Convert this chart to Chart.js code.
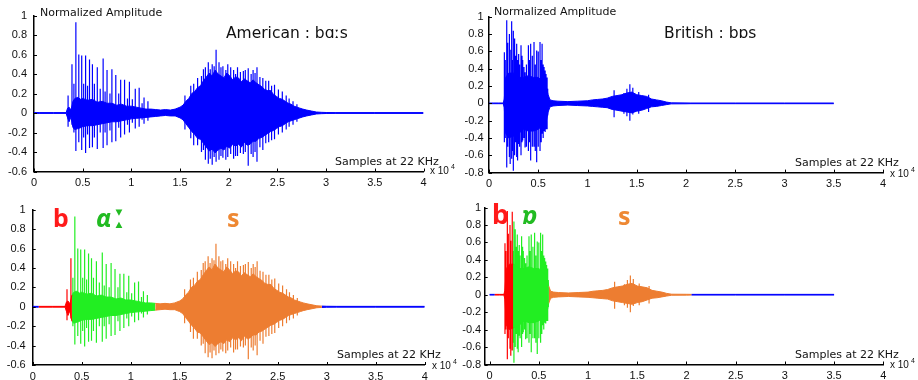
<!DOCTYPE html>
<html>
<head>
<meta charset="utf-8">
<title>American vs British: waveform</title>
<script src="https://cdn.jsdelivr.net/npm/chart.js@4.4.1/dist/chart.umd.min.js"></script>
<style>
  html, body { margin: 0; padding: 0; background: #fff; }
  #wrap { position: relative; width: 918px; height: 380px; overflow: hidden; }
  canvas { position: absolute; }
</style>
</head>
<body>
<div id="wrap">
  <canvas id="amTop" width="460" height="190" style="left:0;top:0"></canvas>
  <canvas id="brTop" width="458" height="190" style="left:460px;top:0"></canvas>
  <canvas id="amBottom" width="460" height="190" style="left:0;top:190px"></canvas>
  <canvas id="brBottom" width="458" height="190" style="left:460px;top:190px"></canvas>
</div>
<script>
// x is in units of 10^4 samples (22 kHz), y is normalized amplitude
const xTicks = [0, 0.5, 1, 1.5, 2, 2.5, 3, 3.5, 4];
const yTicksAm = [-0.6, -0.4, -0.2, 0, 0.2, 0.4, 0.6, 0.8, 1];
const yTicksBr = [-0.8, -0.6, -0.4, -0.2, 0, 0.2, 0.4, 0.6, 0.8, 1];

// American "bɑːs" - amplitude envelope
const amEnvX = [0, 0.06, 0.2, 0.33, 0.345, 0.36, 0.38, 0.40, 0.42, 0.45, 0.48, 0.50, 0.55, 0.60, 0.65, 0.70, 0.75, 0.80, 0.85, 0.90, 0.95, 1.00, 1.05, 1.10, 1.15, 1.20, 1.25, 1.30, 1.35, 1.40, 1.45, 1.50,
  1.53, 1.56, 1.59, 1.62, 1.65, 1.68, 1.71, 1.74, 1.77, 1.80, 1.83, 1.86, 1.89, 1.92, 1.95, 1.98, 2.01, 2.04, 2.07, 2.10, 2.13, 2.16, 2.19, 2.22, 2.25, 2.28, 2.31, 2.34, 2.37, 2.40, 2.43, 2.46, 2.49, 2.52, 2.55, 2.58, 2.61, 2.64, 2.67, 2.70, 2.73, 2.76, 2.80, 2.85, 2.90, 2.95, 3.00,
  3.10, 3.50, 4.00];
const amEnvHi = [0.004, 0.004, 0.004, 0.004, 0.05, 0.06, 0.03, 0.12, 0.15, 0.16, 0.14, 0.15, 0.13, 0.14, 0.11, 0.12, 0.10, 0.10, 0.08, 0.09, 0.07, 0.07, 0.06, 0.05, 0.04, 0.04, 0.035, 0.03, 0.035, 0.03, 0.04, 0.06,
  0.08, 0.12, 0.15, 0.20, 0.22, 0.26, 0.28, 0.33, 0.37, 0.41, 0.38, 0.44, 0.40, 0.38, 0.36, 0.41, 0.38, 0.34, 0.37, 0.36, 0.32, 0.35, 0.33, 0.31, 0.34, 0.31, 0.29, 0.27, 0.24, 0.23, 0.23, 0.19, 0.17, 0.15, 0.14, 0.12, 0.10, 0.09, 0.07, 0.06, 0.05, 0.04, 0.03, 0.02, 0.01, 0.007, 0.005,
  0.004, 0.004, 0.004];
const amEnvLo = [-0.004, -0.004, -0.004, -0.004, -0.05, -0.09, -0.04, -0.15, -0.17, -0.16, -0.15, -0.14, -0.13, -0.13, -0.12, -0.11, -0.10, -0.09, -0.09, -0.08, -0.07, -0.06, -0.055, -0.05, -0.045, -0.04, -0.035, -0.03, -0.025, -0.03, -0.03, -0.05,
  -0.07, -0.11, -0.15, -0.19, -0.22, -0.26, -0.27, -0.31, -0.35, -0.39, -0.37, -0.41, -0.38, -0.36, -0.38, -0.34, -0.36, -0.32, -0.34, -0.32, -0.35, -0.30, -0.33, -0.32, -0.29, -0.29, -0.26, -0.25, -0.23, -0.21, -0.19, -0.18, -0.16, -0.14, -0.13, -0.11, -0.09, -0.08, -0.07, -0.06, -0.05, -0.04, -0.03, -0.02, -0.01, -0.007, -0.005,
  -0.004, -0.004, -0.004];
// American - single spikes (glottal pulses, then frication peaks)
const amSpikeX = [0.35, 0.39, 0.41, 0.43, 0.46, 0.49, 0.51, 0.53, 0.55, 0.57, 0.60, 0.62, 0.65, 0.68, 0.71, 0.73, 0.75, 0.78, 0.80, 0.84, 0.87, 0.89, 0.93, 0.96, 0.98, 1.01, 1.04, 1.08, 1.11, 1.13, 1.17,
  1.55, 1.61, 1.64, 1.68, 1.72, 1.74, 1.76, 1.79, 1.81, 1.83, 1.85, 1.87, 1.90, 1.92, 1.94, 1.97, 1.99, 2.02, 2.05, 2.07, 2.09, 2.12, 2.15, 2.17, 2.20, 2.23, 2.25, 2.27, 2.29, 2.32, 2.35, 2.38, 2.41, 2.44, 2.47, 2.51, 2.55, 2.59, 2.62, 2.66, 2.70];
const amSpikeHi = [0.18, 0.50, 0.30, 0.93, 0.60, 0.59, 0.30, 0.59, 0.28, 0.55, 0.50, 0.30, 0.47, 0.25, 0.56, 0.22, 0.44, 0.20, 0.45, 0.39, 0.20, 0.34, 0.34, 0.15, 0.32, 0.14, 0.25, 0.26, 0.10, 0.16, 0.12,
  0.18, 0.28, 0.30, 0.36, 0.38, 0.45, 0.47, 0.52, 0.45, 0.50, 0.48, 0.65, 0.52, 0.47, 0.48, 0.44, 0.50, 0.47, 0.44, 0.40, 0.47, 0.42, 0.43, 0.44, 0.46, 0.40, 0.44, 0.41, 0.47, 0.37, 0.36, 0.33, 0.33, 0.28, 0.29, 0.24, 0.22, 0.18, 0.15, 0.12, 0.09];
const amSpikeLo = [-0.14, -0.12, -0.20, -0.39, -0.30, -0.38, -0.25, -0.41, -0.22, -0.36, -0.35, -0.25, -0.37, -0.20, -0.36, -0.20, -0.33, -0.18, -0.30, -0.29, -0.15, -0.25, -0.22, -0.12, -0.20, -0.10, -0.16, -0.14, -0.07, -0.11, -0.08,
  -0.17, -0.26, -0.33, -0.33, -0.40, -0.38, -0.48, -0.52, -0.47, -0.53, -0.45, -0.50, -0.48, -0.44, -0.46, -0.48, -0.45, -0.42, -0.47, -0.44, -0.44, -0.41, -0.42, -0.40, -0.54, -0.42, -0.45, -0.40, -0.50, -0.35, -0.38, -0.31, -0.30, -0.28, -0.27, -0.22, -0.20, -0.17, -0.14, -0.12, -0.09];
// American segmentation (silence | b | ɑː | s | silence)
const amSegEdges = [0, 0.06, 0.41, 1.25, 2.98, 4];

// British "bɒs" - amplitude envelope
const brEnvX = [0, 0.05, 0.1, 0.145, 0.155, 0.17, 0.2, 0.24, 0.25, 0.3, 0.35, 0.4, 0.45, 0.5, 0.55, 0.58, 0.6, 0.62, 0.65, 0.7, 0.8, 0.9, 1.0, 1.05, 1.1, 1.15, 1.2, 1.25, 1.3, 1.35, 1.4, 1.45, 1.5, 1.55, 1.6, 1.65, 1.7, 1.75, 1.8, 1.85, 2.0, 2.05, 2.5, 3.0, 3.5];
const brEnvHi = [0.004, 0.004, 0.004, 0.004, 0.05, 0.3, 0.35, 0.35, 0.35, 0.3, 0.3, 0.32, 0.3, 0.3, 0.25, 0.2, 0.1, 0.04, 0.03, 0.025, 0.02, 0.025, 0.03, 0.04, 0.045, 0.05, 0.06, 0.08, 0.09, 0.1, 0.12, 0.13, 0.1, 0.09, 0.08, 0.05, 0.04, 0.03, 0.015, 0.006, 0.005, 0.004, 0.004, 0.004, 0.004];
const brEnvLo = [-0.004, -0.004, -0.004, -0.004, -0.05, -0.35, -0.4, -0.38, -0.38, -0.35, -0.3, -0.32, -0.32, -0.3, -0.25, -0.22, -0.1, -0.04, -0.03, -0.025, -0.02, -0.025, -0.03, -0.035, -0.04, -0.045, -0.05, -0.07, -0.08, -0.09, -0.1, -0.11, -0.09, -0.08, -0.06, -0.04, -0.035, -0.025, -0.015, -0.006, -0.005, -0.004, -0.004, -0.004, -0.004];
// British - single spikes
const brSpikeX = [0.156, 0.165, 0.18, 0.19, 0.207, 0.215, 0.23, 0.24, 0.247, 0.26, 0.27, 0.281, 0.29, 0.301, 0.31, 0.325, 0.335, 0.342, 0.355, 0.366, 0.38, 0.40, 0.41, 0.423, 0.44, 0.457, 0.47, 0.484, 0.50, 0.518, 0.53, 0.539, 0.55, 0.559, 0.57, 0.579, 0.59, 0.596,
  1.27, 1.37, 1.40, 1.43, 1.46, 1.52, 1.62];
const brSpikeHi = [0.59, 0.50, 0.96, 0.70, 0.80, 0.62, 0.95, 0.50, 0.84, 0.75, 0.55, 0.69, 0.50, 0.57, 0.45, 0.67, 0.55, 0.50, 0.42, 0.36, 0.45, 0.67, 0.50, 0.69, 0.55, 0.71, 0.45, 0.61, 0.60, 0.71, 0.50, 0.69, 0.45, 0.42, 0.38, 0.34, 0.30, 0.17,
  0.15, 0.12, 0.17, 0.22, 0.18, 0.13, 0.10];
const brSpikeLo = [-0.45, -0.40, -0.74, -0.50, -0.62, -0.70, -0.64, -0.55, -0.78, -0.60, -0.45, -0.62, -0.66, -0.47, -0.50, -0.60, -0.45, -0.43, -0.40, -0.51, -0.50, -0.55, -0.45, -0.66, -0.50, -0.50, -0.55, -0.68, -0.50, -0.55, -0.45, -0.35, -0.40, -0.32, -0.33, -0.30, -0.30, -0.14,
  -0.16, -0.12, -0.15, -0.20, -0.13, -0.12, -0.10];
// British segmentation (silence | b | ɒ | s | silence)
const brSegEdges = [0, 0.05, 0.24, 0.6, 2.05, 3.5];

const BLUE = "#0000ff";
const segColors = [BLUE, "#ff0000", "#22ee22", "#ed7d31", BLUE];

const american = { envX: amEnvX, envHi: amEnvHi, envLo: amEnvLo, spX: amSpikeX, spHi: amSpikeHi, spLo: amSpikeLo };
const british = { envX: brEnvX, envHi: brEnvHi, envLo: brEnvLo, spX: brSpikeX, spHi: brSpikeHi, spLo: brSpikeLo };

function envSlice(w, a, b) {
  const idx = [];
  w.envX.forEach((x, i) => { if (x >= a && x <= b) idx.push(i); });
  if (idx.length && w.envX[idx[0]] > a && idx[0] > 0) idx.unshift(idx[0] - 1);
  return {
    hi: idx.map(i => ({ x: w.envX[i], y: w.envHi[i] })),
    lo: idx.map(i => ({ x: w.envX[i], y: w.envLo[i] }))
  };
}

function spikeSlice(w, a, b) {
  const pts = [];
  w.spX.forEach((x, i) => {
    if (x >= a && x < b) pts.push({ x, y: w.spHi[i] }, { x, y: w.spLo[i] }, { x, y: null });
  });
  return pts;
}

// segments: list of [from, to, color]
function buildDatasets(w, segments) {
  const env = [], spikes = [];
  segments.forEach(([a, b, c]) => {
    const s = envSlice(w, a, b);
    env.push({ data: s.hi, borderColor: c, borderWidth: 1, fill: false });
    env.push({ data: s.lo, borderColor: c, backgroundColor: c, borderWidth: 1, fill: "-1" });
    spikes.push({ data: spikeSlice(w, a, b), borderColor: c, borderWidth: 1.2, fill: false });
  });
  return env.concat(spikes);
}

function segmentsFrom(edges) {
  return edges.slice(0, -1).map((e, i) => [e, i === edges.length - 2 ? edges[i + 1] + 1e-9 : edges[i + 1], segColors[i]]);
}

const panelDecor = {
  id: "panelDecor",
  afterDatasetsDraw(chart, args, opts) {
    const { ctx, chartArea: a, scales: { x, y } } = chart;
    ctx.save();
    ctx.strokeStyle = "#000";
    ctx.lineWidth = 1;
    x.ticks.forEach(t => {
      const px = Math.round(x.getPixelForValue(t.value)) + 0.5;
      ctx.beginPath(); ctx.moveTo(px, a.bottom); ctx.lineTo(px, a.bottom - 3); ctx.stroke();
    });
    y.ticks.forEach(t => {
      const py = Math.round(y.getPixelForValue(t.value)) + 0.5;
      ctx.beginPath(); ctx.moveTo(a.left, py); ctx.lineTo(a.left + 3, py); ctx.stroke();
    });
    (opts.texts || []).forEach(t => {
      ctx.font = t.font;
      ctx.fillStyle = t.color || "#111";
      ctx.textAlign = "left";
      ctx.textBaseline = "alphabetic";
      ctx.fillText(t.text, t.x, t.y);
    });
    ctx.restore();
  }
};

const labelFont = "11px 'DejaVu Sans'";
const tickFont = { family: "'Liberation Sans', Arial, sans-serif", size: 11 };

function axisNote(x, y) {
  return [
    { text: "x 10", x: x, y: y, font: "10px 'Liberation Sans'" },
    { text: "4", x: x + 21, y: y - 5, font: "7px 'Liberation Sans'" }
  ];
}

function makePanel(id, word, segments, yTicks, g, texts) {
  new Chart(document.getElementById(id), {
    type: "line",
    data: { datasets: buildDatasets(word, segments) },
    plugins: [panelDecor],
    options: {
      responsive: false,
      animation: false,
      events: [],
      layout: { padding: { left: 0, top: g.top, right: g.right, bottom: 0 } },
      elements: { point: { radius: 0 }, line: { tension: 0 } },
      plugins: {
        legend: { display: false },
        tooltip: { enabled: false },
        panelDecor: { texts }
      },
      scales: {
        x: {
          type: "linear",
          min: g.xmin, max: 4,
          offset: false,
          grid: { display: true, drawOnChartArea: false, drawTicks: false },
          border: { display: true, color: "#000", width: 1.5 },
          afterBuildTicks: s => { s.ticks = xTicks.map(v => ({ value: v })); },
          afterFit: s => { s.height = g.xh; },
          ticks: { padding: 5, color: "#111", font: tickFont, maxRotation: 0, autoSkip: false, callback: v => String(v) }
        },
        y: {
          type: "linear",
          min: yTicks[0], max: yTicks[yTicks.length - 1],
          grid: { display: true, drawOnChartArea: false, drawTicks: false },
          border: { display: true, color: "#000", width: 1.5 },
          afterBuildTicks: s => { s.ticks = yTicks.map(v => ({ value: v })); },
          afterFit: s => { s.width = g.yw; },
          ticks: { padding: g.ypad, color: "#111", font: tickFont, autoSkip: false, callback: v => String(v) }
        }
      }
    }
  });
}

const allBlue = [[0, 4.01, BLUE]];

makePanel("amTop", american, allBlue, yTicksAm,
  { yw: 34, xh: 18.5, top: 15.5, right: 36.5, xmin: 0, ypad: 7 },
  [
    { text: "Normalized Amplitude", x: 40, y: 16, font: labelFont },
    { text: "American : bɑːs", x: 226, y: 38, font: "15.5px 'DejaVu Sans'" },
    { text: "Samples at 22 KHz", x: 335, y: 165, font: labelFont }
  ].concat(axisNote(430, 174)));

makePanel("brTop", british, allBlue, yTicksBr,
  { yw: 29, xh: 17.4, top: 16.8, right: 35, xmin: 0, ypad: 5.5 },
  [
    { text: "Normalized Amplitude", x: 34, y: 15, font: labelFont },
    { text: "British : bɒs", x: 204, y: 38, font: "15.5px 'DejaVu Sans'" },
    { text: "Samples at 22 KHz", x: 335, y: 166, font: labelFont }
  ].concat(axisNote(430, 177)));

makePanel("amBottom", american, segmentsFrom(amSegEdges), yTicksAm,
  { yw: 32.7, xh: 15, top: 19.7, right: 35.3, xmin: 0, ypad: 7 },
  [
    { text: "b", x: 53, y: 37, font: "bold 25px 'Noto Sans'", color: "#ff1a1a" },
    { text: "ɑ", x: 96, y: 37, font: "italic bold 25px 'Noto Sans'", color: "#22bb22" },
    { text: "ː", x: 114, y: 38, font: "bold 34px 'DejaVu Sans'", color: "#22bb22" },
    { text: "s", x: 227, y: 37, font: "bold 25px 'Noto Sans'", color: "#ee8833" },
    { text: "Samples at 22 KHz", x: 337, y: 168, font: labelFont }
  ].concat(axisNote(432, 179)));

makePanel("brBottom", british, segmentsFrom(brSegEdges), yTicksBr,
  { yw: 24.7, xh: 15.5, top: 17.5, right: 34.7, xmin: -0.05, ypad: 3.5 },
  [
    { text: "b", x: 32, y: 34, font: "bold 27px 'Noto Sans'", color: "#ff1a1a" },
    { text: "ɒ", x: 62, y: 34, font: "italic bold 25px 'Noto Sans'", color: "#22bb22" },
    { text: "s", x: 158, y: 35, font: "bold 25px 'Noto Sans'", color: "#ee8833" },
    { text: "Samples at 22 KHz", x: 335, y: 168, font: labelFont }
  ].concat(axisNote(430, 178)));
</script>
</body>
</html>
